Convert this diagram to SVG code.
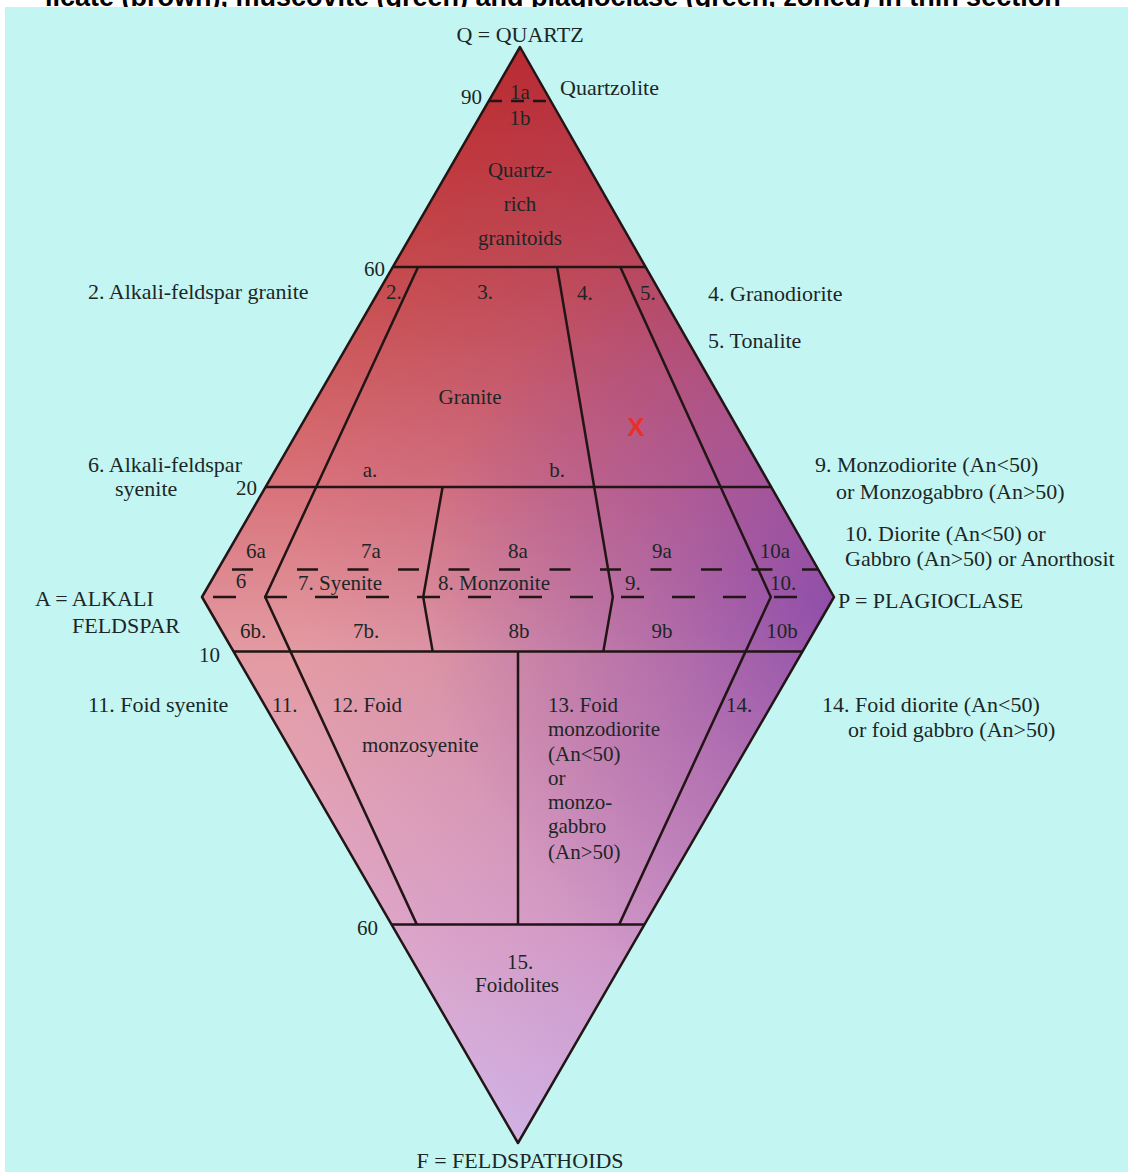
<svg xmlns="http://www.w3.org/2000/svg" width="1133" height="1172" viewBox="0 0 1133 1172">
<defs>
<linearGradient id="gV" gradientUnits="userSpaceOnUse" x1="0" y1="47" x2="0" y2="1143">
<stop offset="0" stop-color="#c2281f"/>
<stop offset="0.2" stop-color="#c94a46"/>
<stop offset="0.4" stop-color="#d8727a"/>
<stop offset="0.55" stop-color="#e39aa2"/>
<stop offset="0.8" stop-color="#e2aac8"/>
<stop offset="1" stop-color="#dcc2ea"/>
</linearGradient>
<linearGradient id="gH" gradientUnits="userSpaceOnUse" x1="300" y1="0" x2="834" y2="0">
<stop offset="0" stop-color="#7a3ab8" stop-opacity="0"/>
<stop offset="1" stop-color="#7a3ab8" stop-opacity="0.3"/>
</linearGradient>
<radialGradient id="gR" gradientUnits="userSpaceOnUse" cx="850" cy="610" r="420">
<stop offset="0" stop-color="#6a30b0" stop-opacity="0.6"/>
<stop offset="0.5" stop-color="#8040b0" stop-opacity="0.3"/>
<stop offset="1" stop-color="#8040b0" stop-opacity="0"/>
</radialGradient>
</defs>
<style>
.ln{fill:none;stroke:#221515;stroke-width:2.5;stroke-linejoin:round}
.t{font-family:"Liberation Serif","Times New Roman",serif;font-size:21px;fill:#1c2626}
.s{font-size:22px}
.m{text-anchor:middle}
.e{text-anchor:end}
</style>
<rect x="0" y="0" width="1133" height="1172" fill="#ffffff"/>
<text x="45" y="6" font-family="Liberation Sans, Arial, sans-serif" font-weight="bold" font-size="27" fill="#000">licate (brown), muscovite (green) and plagioclase (green, zoned) in thin section</text>
<rect x="5" y="7" width="1123" height="1165" fill="#c3f6f3"/>

<g id="diagram-fill">
<path d="M520,47 L834,597 L518,1143 L202,597 Z" fill="url(#gV)"/>
<path d="M520,47 L834,597 L518,1143 L202,597 Z" fill="url(#gH)"/>
<path d="M520,47 L834,597 L518,1143 L202,597 Z" fill="url(#gR)"/>
</g>

<g id="connectors">
<path class="ln" d="M520,47 L834,597 L518,1143 L202,597 Z"/>
<path class="ln" d="M392.8,267 H645.6 M265.6,487 H771.2 M233.6,651.6 H802.4 M391.6,924.6 H644.4"/>
<path class="ln" d="M418.1,267 L316.2,487 L265.2,597 L290.5,651.6 L416.9,924.6"/>
<path class="ln" d="M442.6,487 L423.2,597 L432.7,651.6"/>
<path class="ln" d="M557.1,267 L594.2,487 L612.8,597 L603.3,651.6"/>
<path class="ln" d="M620.3,267 L720.6,487 L770.8,597 L745.5,651.6 L619.1,924.6"/>
<path class="ln" d="M518,651.6 V924.6"/>
<path class="ln" d="M489,101 H550" stroke-dasharray="13 9"/>
<path class="ln" d="M232,569.5 H253"/>
<path class="ln" d="M297,569.5 H818" stroke-dasharray="21 29.5"/>
<path class="ln" d="M213,597 H815" stroke-dasharray="23 28"/>
</g>

<g id="vertex-labels" class="t s">
<text x="520" y="42" class="m">Q = QUARTZ</text>
<text x="35" y="606">A = ALKALI</text>
<text x="72" y="633">FELDSPAR</text>
<text x="838" y="608">P = PLAGIOCLASE</text>
<text x="520" y="1168" class="m">F = FELDSPATHOIDS</text>
</g>

<g id="scale-labels" class="t">
<text x="482" y="104" class="e">90</text>
<text x="385" y="276" class="e">60</text>
<text x="257" y="495" class="e">20</text>
<text x="220" y="662" class="e">10</text>
<text x="378" y="935" class="e">60</text>
</g>

<g id="field-1" class="t">
<text x="520" y="99" class="m">1a</text>
<text x="520" y="125" class="m">1b</text>
<text x="560" y="95" class="s">Quartzolite</text>
<text x="520" y="177" class="m">Quartz-</text>
<text x="520" y="211" class="m">rich</text>
<text x="520" y="245" class="m">granitoids</text>
</g>

<g id="field-2-5" class="t">
<text x="386" y="299">2.</text>
<text x="485" y="299" class="m">3.</text>
<text x="577" y="300">4.</text>
<text x="640" y="300">5.</text>
<text x="470" y="404" class="m">Granite</text>
<text x="370" y="477" class="m">a.</text>
<text x="557" y="477" class="m">b.</text>
<text x="636" y="436" class="m" font-family="Liberation Sans, Arial, sans-serif" font-weight="bold" font-size="26" fill="#e8302a">X</text>
</g>

<g id="field-6-10" class="t">
<text x="256" y="558" class="m">6a</text>
<text x="241" y="588" class="m">6</text>
<text x="240" y="638">6b.</text>
<text x="371" y="558" class="m">7a</text>
<text x="298" y="590">7. Syenite</text>
<text x="353" y="638">7b.</text>
<text x="518" y="558" class="m">8a</text>
<text x="438" y="590">8. Monzonite</text>
<text x="519" y="638" class="m">8b</text>
<text x="662" y="558" class="m">9a</text>
<text x="625" y="590">9.</text>
<text x="662" y="638" class="m">9b</text>
<text x="775" y="558" class="m">10a</text>
<text x="770" y="590">10.</text>
<text x="782" y="638" class="m">10b</text>
</g>

<g id="field-11-15" class="t">
<text x="272" y="712">11.</text>
<text x="332" y="712">12. Foid</text>
<text x="362" y="752">monzosyenite</text>
<text x="548" y="712">13. Foid</text>
<text x="548" y="736">monzodiorite</text>
<text x="548" y="761">(An&lt;50)</text>
<text x="548" y="785">or</text>
<text x="548" y="809">monzo-</text>
<text x="548" y="833">gabbro</text>
<text x="548" y="859">(An&gt;50)</text>
<text x="726" y="712">14.</text>
<text x="520" y="969" class="m">15.</text>
<text x="517" y="992" class="m">Foidolites</text>
</g>

<g id="side-labels" class="t s">
<text x="88" y="299">2. Alkali-feldspar granite</text>
<text x="708" y="301">4. Granodiorite</text>
<text x="708" y="348">5. Tonalite</text>
<text x="88" y="472">6. Alkali-feldspar</text>
<text x="115" y="496">syenite</text>
<text x="815" y="472">9. Monzodiorite (An&lt;50)</text>
<text x="836" y="499">or Monzogabbro (An&gt;50)</text>
<text x="845" y="541">10. Diorite (An&lt;50) or</text>
<text x="845" y="566">Gabbro (An&gt;50) or Anorthosit</text>
<text x="88" y="712">11. Foid syenite</text>
<text x="822" y="712">14. Foid diorite (An&lt;50)</text>
<text x="848" y="737">or foid gabbro (An&gt;50)</text>
</g>
</svg>
